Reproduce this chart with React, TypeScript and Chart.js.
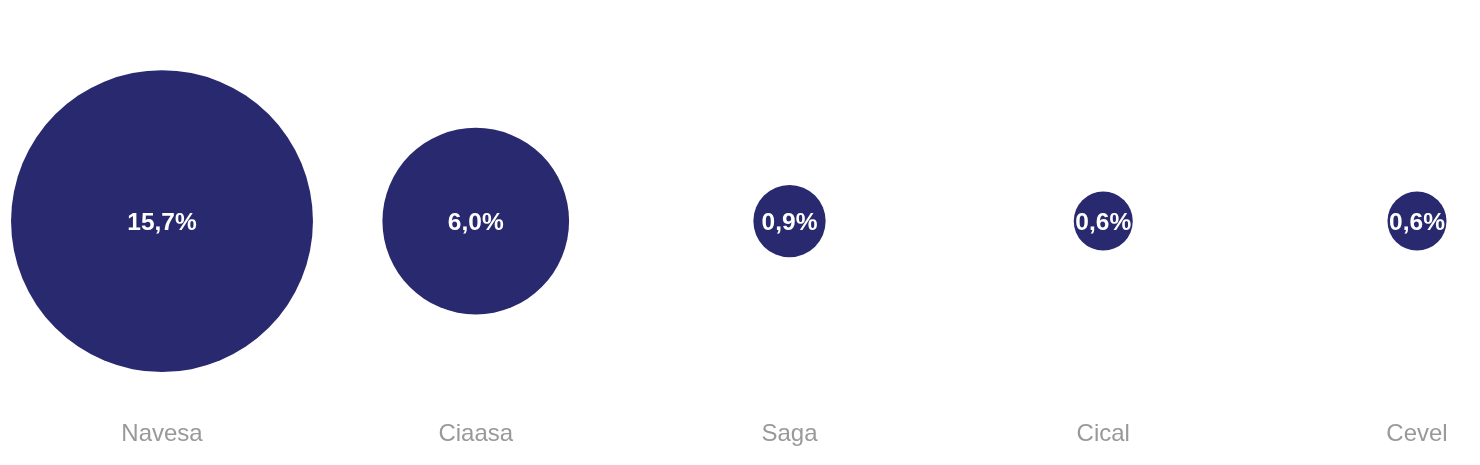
import React, { useEffect, useRef } from "react";
import { Chart, registerables } from "chart.js";

Chart.register(...registerables);

const categories = ["Navesa", "Ciaasa", "Saga", "Cical", "Cevel"];
const shares = [15.7, 6.0, 0.9, 0.6, 0.6];

const BUBBLE_COLOR = "#28296f";
const LABEL_COLOR = "#999999";
const FONT = "'Liberation Sans', Arial, sans-serif";
const RADIUS_SCALE = 38.1;

const valueLabels = {
  id: "valueLabels",
  afterDatasetsDraw(chart: any) {
    const ctx = chart.ctx;
    const meta = chart.getDatasetMeta(0);
    ctx.save();
    ctx.fillStyle = "#ffffff";
    ctx.font = `bold 24.5px ${FONT}`;
    ctx.textAlign = "center";
    ctx.textBaseline = "middle";
    meta.data.forEach((el: any, i: number) => {
      const txt = shares[i].toFixed(1).replace(".", ",") + "%";
      ctx.fillText(txt, el.x, el.y + 2);
    });
    ctx.restore();
  },
};

export default function App() {
  const ref = useRef<HTMLCanvasElement | null>(null);
  useEffect(() => {
    if (!ref.current) return;
    const chart = new Chart(ref.current, {
      type: "bubble",
      data: {
        datasets: [
          {
            data: shares.map((v, i) => ({ x: i, y: 0, r: RADIUS_SCALE * Math.sqrt(v) })),
            backgroundColor: BUBBLE_COLOR,
            borderWidth: 0,
            hoverBorderWidth: 0,
            hoverRadius: 0,
            clip: false as any,
          } as any,
        ],
      },
      options: {
        animation: false,
        responsive: true,
        maintainAspectRatio: false,
        layout: { autoPadding: false, padding: { left: 154, right: 55, top: 25, bottom: 5 } },
        plugins: { legend: { display: false }, tooltip: { enabled: false } },
        events: [],
        scales: {
          x: {
            type: "linear",
            min: 0,
            max: categories.length - 1,
            grid: { display: false },
            border: { display: false },
            ticks: {
              stepSize: 1,
              autoSkip: false,
              maxRotation: 0,
              color: LABEL_COLOR,
              font: { family: FONT, size: 24 },
              callback: (v: any) => categories[v as number] ?? "",
            },
          },
          y: { display: false, min: -1, max: 1 },
        },
      },
      plugins: [valueLabels],
    });
    return () => chart.destroy();
  }, []);
  return (
    <div style={{ position: "relative", width: "100%", height: 449 }}>
      <canvas ref={ref} />
    </div>
  );
}
